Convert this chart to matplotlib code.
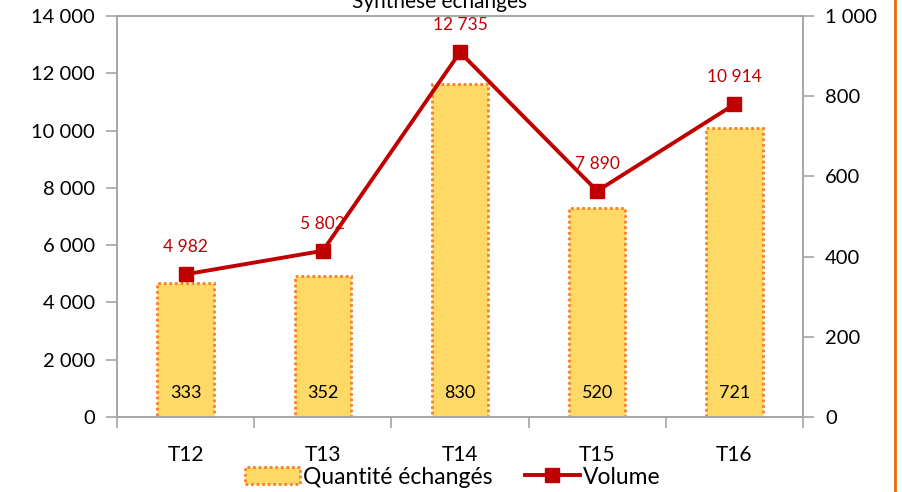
import matplotlib
matplotlib.use("Agg")
import matplotlib.pyplot as plt
from matplotlib.lines import Line2D
from matplotlib.patches import Patch
from matplotlib.ticker import FuncFormatter

plt.rcParams['font.family'] = ['Lato', 'DejaVu Sans']

categories = ["T12", "T13", "T14", "T15", "T16"]
quantite = [333, 352, 830, 520, 721]
volume = [4982, 5802, 12735, 7890, 10914]

def fmt(v, pos=None):
    return f"{int(v):,}".replace(",", " ")

W, H = 902, 492
fig = plt.figure(figsize=(W / 100, H / 100), dpi=100)
ax = fig.add_axes([117 / W, (H - 417) / H, 686 / W, 401 / H])
gray = "#a6a6a6"
edge = "#F4812A"
edge_ls = (0, (1, 1))

x = list(range(len(categories)))
ax.bar(x, quantite, width=0.41, color="#FFD966", edgecolor=edge,
       linestyle=edge_ls, linewidth=2, zorder=2)
ax.set_ylim(0, 1000)
ax.set_xlim(-0.5, len(categories) - 0.5)
for xi, q in zip(x, quantite):
    ax.text(xi, 60, str(q), ha="center", va="center", fontsize=13, color="black", zorder=3)

ax2 = ax.twinx()
ax2.plot(x, volume, color="#C00000", linewidth=2.8, marker="s", markersize=10.5, zorder=4)
ax2.set_ylim(0, 14000)
for xi, v in zip(x, volume):
    ax2.annotate(fmt(v), (xi, v), xytext=(0, 16), textcoords="offset points",
                 ha="center", va="baseline", fontsize=12.5, color="#C00000")

ax.yaxis.tick_right()
ax.set_yticks(range(0, 1001, 200))
ax.yaxis.set_major_formatter(FuncFormatter(fmt))
ax2.yaxis.tick_left()
ax2.set_yticks(range(0, 14001, 2000))
ax2.yaxis.set_major_formatter(FuncFormatter(fmt))

for a in (ax, ax2):
    for s in a.spines.values():
        s.set_color(gray)
        s.set_linewidth(1.2)
    a.tick_params(axis="y", colors=gray, labelcolor="black", labelsize=14.5, length=8, width=1.2, pad=8)

ax.set_xticks([i + 0.5 for i in range(-1, len(categories))])
ax.set_xticklabels([])
ax.tick_params(axis="x", which="major", colors=gray, length=8, width=1.2)
ax.set_xticks(x, minor=True)
ax.set_xticklabels(categories, minor=True)
ax.tick_params(axis="x", which="minor", length=0, labelsize=15, pad=20, labelcolor="black")
ax2.tick_params(axis="x", which="both", length=0)

handles = [Patch(facecolor="#FFD966", edgecolor=edge, linestyle=edge_ls, linewidth=2),
           Line2D([0], [0], color="#C00000", linewidth=2.8, marker="s", markersize=10.5)]
fig.legend(handles, ["Quantité échangés", "Volume"], loc="center", bbox_to_anchor=(453 / W, 1 - 477 / H),
           ncol=2, frameon=False, fontsize=16.5, handlelength=2.4, columnspacing=1.4, handletextpad=0.15,
           borderaxespad=0, borderpad=0)

fig.text(440 / W, 1 - 8 / H, "Synthèse échanges", ha="center", va="baseline", fontsize=15)
fig.add_artist(Line2D([895 / W, 895 / W], [0, 1], color="#E46C0A", linewidth=2))

fig.savefig("out.png", dpi=100)
